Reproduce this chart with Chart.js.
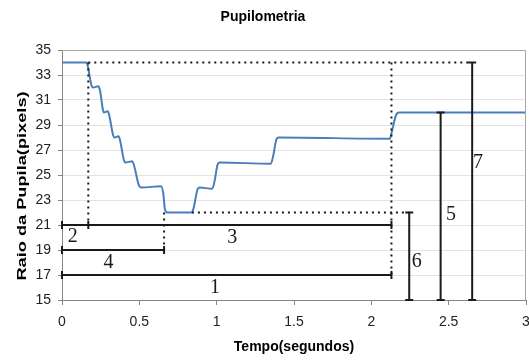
<!DOCTYPE html>
<html>
<head>
<meta charset="utf-8">
<script src="https://cdn.jsdelivr.net/npm/chart.js@4"></script>
<style>
  html, body { margin: 0; padding: 0; background: #fff; }
  #wrap { width: 529px; height: 360px; }
</style>
</head>
<body>
<div id="wrap"><canvas id="pupilChart"></canvas></div>
<script>
// pupil radius curve
const timeSec = [0, 0.16, 0.17, 0.19, 0.20, 0.235, 0.245, 0.265, 0.27, 0.295, 0.305, 0.33, 0.34, 0.365, 0.375, 0.40, 0.41,
  0.455, 0.465, 0.50, 0.515, 0.64, 0.655, 0.665, 0.68, 0.835, 0.85, 0.875, 0.89, 0.97, 0.985, 1.005, 1.02,
  1.35, 1.365, 1.385, 1.40, 2.12, 2.135, 2.16, 2.18, 3.0];
const radiusPx = [34, 34, 33.5, 32.2, 32, 32.1, 31.8, 30.2, 30, 30.1, 29.8, 28.2, 28, 28.1, 27.8, 26.2, 26,
  26.1, 25.8, 24.1, 24, 24.1, 23.5, 22.3, 22, 22, 22.3, 23.8, 24, 23.9, 24.4, 25.8, 26,
  25.9, 26.5, 27.8, 28, 27.9, 28.6, 29.8, 30, 30];

const xTicks = [0, 0.5, 1, 1.5, 2, 2.5, 3];
const yTicks = [15, 17, 19, 21, 23, 25, 27, 29, 31, 33, 35];

// guide lines, in data units: [x1, y1, x2, y2]
const dottedLines = [
  [0.17, 34, 2.65, 34],
  [0.17, 34, 0.17, 21],
  [0.66, 22, 0.66, 19],
  [0.84, 22, 2.245, 22],
  [2.13, 34, 2.13, 17]
];
const spanLines = [
  [0, 21, 2.13, 21],
  [0, 19, 0.66, 19],
  [0, 17, 2.13, 17],
  [2.245, 22, 2.245, 15],
  [2.448, 30, 2.448, 15],
  [2.652, 34, 2.652, 15]
];
const extraCaps = [[0.17, 21]];
const spanLabels = ['1', '2', '3', '4', '5', '6', '7'];
const labelX = [0.99, 0.07, 1.10, 0.30, 2.515, 2.293, 2.69];
const labelY = [16.0, 20.1, 20.0, 18.0, 21.8, 18.05, 26.0];

const yTitle = 'Raio da Pupila(pixels)';

const annotationPlugin = {
  id: 'spans',
  afterDatasetsDraw(chart) {
    const ctx = chart.ctx;
    const xs = chart.scales.x, ys = chart.scales.y;
    const ca = chart.chartArea;
    ctx.save();
    // frame top / right
    ctx.strokeStyle = '#a6a6a6';
    ctx.lineWidth = 1;
    ctx.beginPath();
    ctx.moveTo(ca.left, ca.top + 0.5);
    ctx.lineTo(ca.right - 0.5, ca.top + 0.5);
    ctx.lineTo(ca.right - 0.5, ca.bottom);
    ctx.stroke();

    ctx.strokeStyle = '#1a1a1a';
    ctx.lineWidth = 2;
    ctx.setLineDash([2, 4]);
    dottedLines.forEach(s => {
      ctx.beginPath();
      ctx.moveTo(xs.getPixelForValue(s[0]), ys.getPixelForValue(s[1]));
      ctx.lineTo(xs.getPixelForValue(s[2]), ys.getPixelForValue(s[3]));
      ctx.stroke();
    });
    ctx.setLineDash([]);

    const cap = (px, py, vertical) => {
      ctx.beginPath();
      if (vertical) { ctx.moveTo(px, py - 4); ctx.lineTo(px, py + 4); }
      else { ctx.moveTo(px - 4, py); ctx.lineTo(px + 4, py); }
      ctx.stroke();
    };
    spanLines.forEach(s => {
      const x1 = xs.getPixelForValue(s[0]), y1 = ys.getPixelForValue(s[1]);
      const x2 = xs.getPixelForValue(s[2]), y2 = ys.getPixelForValue(s[3]);
      ctx.beginPath();
      ctx.moveTo(x1, y1);
      ctx.lineTo(x2, y2);
      ctx.stroke();
      const horiz = s[1] === s[3];
      cap(x1, y1, horiz);
      cap(x2, y2, horiz);
    });
    extraCaps.forEach(p => cap(xs.getPixelForValue(p[0]), ys.getPixelForValue(p[1]), true));

    ctx.fillStyle = '#1a1a1a';
    ctx.font = '20px "Liberation Serif", "DejaVu Serif", serif';
    ctx.textAlign = 'center';
    ctx.textBaseline = 'middle';
    spanLabels.forEach((t, i) => {
      ctx.fillText(t, xs.getPixelForValue(labelX[i]), ys.getPixelForValue(labelY[i]));
    });

    // y axis title, drawn stretched like the original export
    ctx.translate(22, 186);
    ctx.rotate(-Math.PI / 2);
    ctx.scale(1.4, 1);
    ctx.fillStyle = '#000';
    ctx.font = 'bold 13px "Liberation Sans", Arial, sans-serif';
    ctx.fillText(yTitle, 0, 0);
    ctx.restore();
  }
};

const tickFont = { family: '"Liberation Sans", Arial, sans-serif', size: 14 };

new Chart(document.getElementById('pupilChart'), {
  type: 'line',
  data: {
    datasets: [{
      label: 'Raio',
      data: timeSec.map((t, i) => ({ x: t, y: radiusPx[i] })),
      borderColor: '#4a7ebb',
      borderWidth: 2,
      pointRadius: 0,
      fill: false,
      cubicInterpolationMode: 'monotone'
    }]
  },
  options: {
    responsive: true,
    maintainAspectRatio: false,
    animation: false,
    layout: { padding: { left: 0, right: 3, top: 0, bottom: 0 } },
    plugins: {
      legend: { display: false },
      tooltip: { enabled: false },
      title: {
        display: true,
        text: 'Pupilometria',
        color: '#000',
        font: { family: '"Liberation Sans", Arial, sans-serif', size: 14, weight: 'bold' },
        padding: { top: 8.6, bottom: 24.6 }
      }
    },
    scales: {
      x: {
        type: 'linear',
        min: 0,
        max: 3,
        afterBuildTicks: s => { s.ticks = xTicks.map(v => ({ value: v })); },
        afterFit: s => { s.height = 60; s.paddingLeft = 0; s.paddingRight = 0; },
        grid: { drawOnChartArea: false, drawTicks: true, tickLength: 5, color: '#868686' },
        border: { color: '#868686' },
        ticks: { color: '#222', padding: 9, font: tickFont, callback: v => String(v) },
        title: {
          display: true,
          text: 'Tempo(segundos)',
          color: '#000',
          font: { family: '"Liberation Sans", Arial, sans-serif', size: 14, weight: 'bold' },
          padding: { top: 4, bottom: 4 }
        }
      },
      y: {
        min: 15,
        max: 35,
        afterBuildTicks: s => { s.ticks = yTicks.map(v => ({ value: v })); },
        afterFit: s => { s.width = 62; s.paddingTop = 0; s.paddingBottom = 0; },
        grid: { color: '#e3e3e3', tickColor: '#868686', tickLength: 4 },
        border: { color: '#868686' },
        ticks: { color: '#222', padding: 7, font: tickFont },
        title: { display: false }
      }
    }
  },
  plugins: [annotationPlugin]
});
</script>
</body>
</html>
